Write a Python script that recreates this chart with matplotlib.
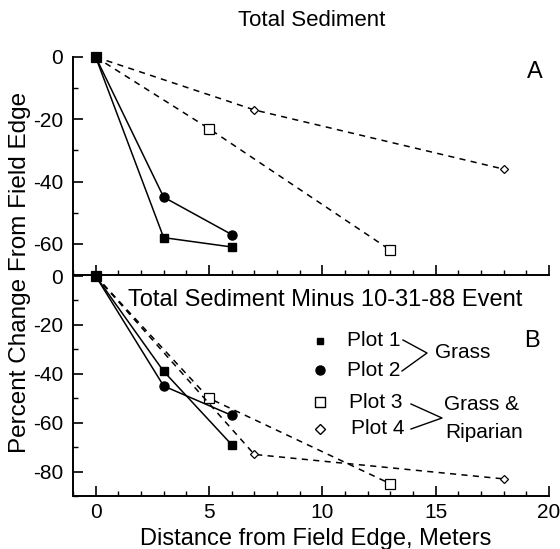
import matplotlib
matplotlib.use("Agg")
import matplotlib.pyplot as plt
from matplotlib.ticker import MultipleLocator

plt.rcParams['font.family'] = ['Liberation Sans', 'DejaVu Sans']

# Data (distance in meters, percent change)
x_p1 = [0, 3, 6]
x_p2 = [0, 3, 6]
x_p3 = [0, 5, 13]
x_p4 = [0, 7, 18]

a_p1 = [0, -58, -61]
a_p2 = [0, -45, -57]
a_p3 = [0, -23, -62]
a_p4 = [0, -17, -36]

b_p1 = [0, -39, -69]
b_p2 = [0, -45, -57]
b_p3 = [0, -50, -85]
b_p4 = [0, -73, -83]

yticks_a = [0, -20, -40, -60]
yticks_b = [0, -20, -40, -60, -80]
xticks = [0, 5, 10, 15, 20]

W, H = 560, 549
fig = plt.figure(figsize=(W / 100, H / 100), dpi=100)

def px(x0, y0, x1, y1):
    return [x0 / W, 1 - y1 / H, (x1 - x0) / W, (y1 - y0) / H]

axA = fig.add_axes(px(73, 57, 549, 275))
axB = fig.add_axes(px(73, 276, 549, 496))

dash = (0, (4, 3.5))
lw = 1.1
tfs = 15   # tick labels
fs = 16    # titles / labels
lfs = 15   # legend

def draw(ax, y1, y2, y3, y4):
    ax.plot(x_p3, y3, color='black', lw=lw, linestyle=dash, marker='s', ms=7,
            mfc='white', mec='black', mew=0.9, clip_on=False, zorder=3)
    ax.plot(x_p4, y4, color='black', lw=lw, linestyle=dash, marker='D', ms=4.5,
            mfc='white', mec='black', mew=0.9, clip_on=False, zorder=3)
    ax.plot(x_p1, y1, color='black', lw=lw, marker='s', ms=5.5,
            mfc='black', mec='black', clip_on=False, zorder=4)
    ax.plot(x_p2, y2, color='black', lw=lw, marker='o', ms=6.5,
            mfc='black', mec='black', clip_on=False, zorder=4)
    ax.set_xlim(-1, 20)
    ax.xaxis.set_major_locator(MultipleLocator(5))
    ax.xaxis.set_minor_locator(MultipleLocator(1))
    ax.yaxis.set_minor_locator(MultipleLocator(10))
    ax.spines['top'].set_visible(False)
    ax.spines['right'].set_visible(False)
    for s in ('left', 'bottom'):
        ax.spines[s].set_linewidth(1.4)
    ax.tick_params(axis='both', which='major', direction='in', length=7, width=1.2,
                   labelsize=tfs, pad=7)
    ax.tick_params(axis='both', which='minor', direction='in', length=3.5, width=1.0)
    ax.patch.set_alpha(0)

draw(axA, a_p1, a_p2, a_p3, a_p4)
axA.set_ylim(-70, 0)
axA.set_yticks(yticks_a)
axA.set_yticklabels([str(v) for v in yticks_a])
axA.set_xticks(xticks)
axA.tick_params(axis='x', labelbottom=False)

draw(axB, b_p1, b_p2, b_p3, b_p4)
axB.set_ylim(-90, 0)
axB.set_yticks(yticks_b)
axB.set_yticklabels([str(v) for v in yticks_b])
axB.set_xticks(xticks)
axB.set_xticklabels([str(v) for v in xticks])
axB.tick_params(axis='x', pad=5)

fig.text(312 / W, 1 - 20 / H, 'Total Sediment', ha='center', va='center', fontsize=fs)
fig.text(535 / W, 1 - 72 / H, 'A', ha='center', va='center', fontsize=fs + 1)
fig.text(532 / W, 1 - 341 / H, 'B', ha='center', va='center', fontsize=fs + 1)
fig.text(128 / W, 1 - 300 / H, 'Total Sediment Minus 10-31-88 Event', ha='left', va='center',
         fontsize=fs + 1)
fig.text(20 / W, 1 - 272 / H, 'Percent Change From Field Edge', ha='center', va='center',
         rotation=90, fontsize=fs + 1.5)
fig.text(316 / W, 1 - 539 / H, 'Distance from Field Edge, Meters', ha='center', va='center',
         fontsize=fs + 1)

# Legend (manual)
lx = 320
rows = [341, 370, 402, 429]
tx = [347, 347, 349, 351]
labels = ['Plot 1', 'Plot 2', 'Plot 3', 'Plot 4']
mk = [('s', 5.0, 'black'), ('o', 6.5, 'black'), ('s', 7, 'white'), ('D', 5, 'white')]
for r, t, lab, (m, s, fc) in zip(rows, tx, labels, mk):
    fig.lines.append(plt.Line2D([lx / W], [1 - r / H], marker=m, ms=s, mfc=fc, mec='black',
                                mew=1.0, transform=fig.transFigure, linestyle='none'))
    fig.text(t / W, 1 - r / H, lab, ha='left', va='center', fontsize=lfs)

def brace(xs, ys):
    fig.lines.append(plt.Line2D([x / W for x in xs], [1 - y / H for y in ys], color='black',
                                lw=1.0, transform=fig.transFigure))

brace([403, 427, 402], [340, 353, 371])
fig.text(435 / W, 1 - 353 / H, 'Grass', ha='left', va='center', fontsize=lfs)
brace([411, 442, 411], [404, 418, 429])
fig.text(444 / W, 1 - 404 / H, 'Grass &', ha='left', va='center', fontsize=lfs)
fig.text(445 / W, 1 - 432 / H, 'Riparian', ha='left', va='center', fontsize=lfs)

fig.savefig('out.png', dpi=100)
